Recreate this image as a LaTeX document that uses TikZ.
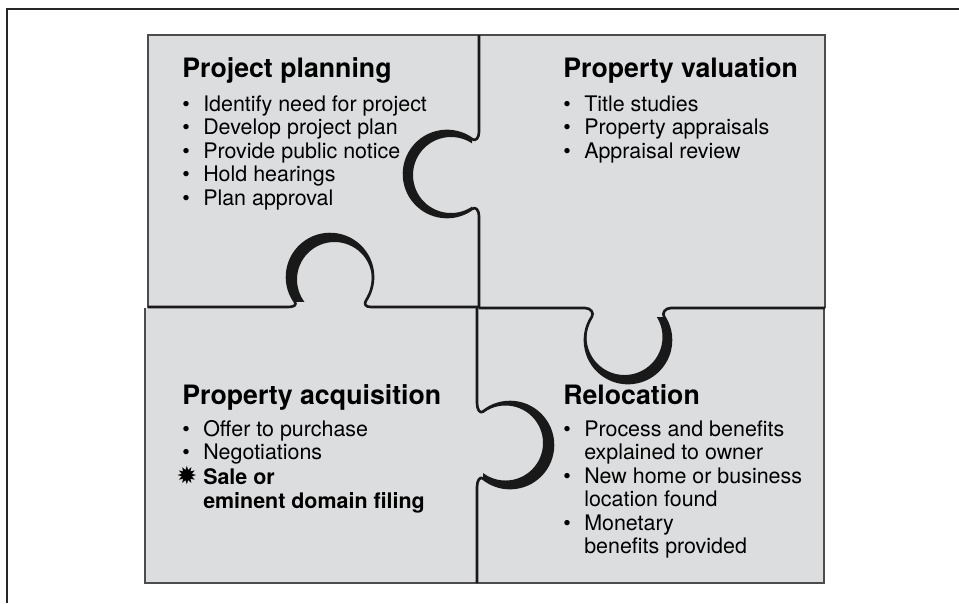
\documentclass[tikz,border=0pt]{standalone}
\usepackage{fontspec}
\setmainfont{TeX Gyre Heros}
\newfontfamily\starfont{DejaVu Sans}
\usepackage{tikz}
\usetikzlibrary{positioning}
\definecolor{puzzlegray}{RGB}{220,221,223}
\newcommand{\listbullet}{\makebox[11.9pt][l]{\textbullet}}
\newcommand{\listburst}{\makebox[11.9pt][l]{\hspace{-3.2pt}{\starfont\fontsize{14}{14}\selectfont ✹}}}

\begin{document}
\begin{tikzpicture}[x=0.02cm,y=-0.02cm,
    edge line/.style={draw=black!70,line width=0.6pt},
    seam/.style={draw=black!90,line width=1.5pt,line join=round},
    head node/.style={anchor=base west,inner sep=0pt,font=\fontsize{15.2}{16}\selectfont\bfseries},
    list node/.style={anchor=base west,inner sep=0pt,font=\fontsize{12.2}{13.4}\selectfont}]
  \useasboundingbox (0,0) rectangle (959,603);
  % frame
  \draw[line width=1pt,black!85] (7,603) -- (7,9) -- (959,9);

  % the four pieces
  \fill[puzzlegray] (148,35) rectangle (825,308);
  \fill[puzzlegray] (145,308) rectangle (824,583);
  \draw[edge line] (148,308) -- (148,35) -- (825,35) -- (825,308);
  \draw[edge line] (145,308) -- (145,583) -- (824,583) -- (824,308);

  % seams with their knobs
  \draw[seam] (148,307) -- (288,307) .. controls (294,307) and (297.1,305) .. (294.8,301.7)
     arc[start angle=145, end angle=393, radius=43]
     .. controls (363.9,303.8) and (365,307) .. (371,307) -- (479,307);
  \draw[seam] (479,35) -- (479,132) .. controls (479,138) and (475.5,141.6) .. (472.3,139.2)
     arc[start angle=-54, end angle=-306, radius=43]
     .. controls (475.5,206.4) and (479,210) .. (479,216) -- (479,307);
  \draw[seam] (479,308) -- (585,308) .. controls (591,308) and (594.1,313.2) .. (591.9,316.6)
     arc[start angle=213, end angle=-33, radius=43]
     .. controls (661.9,313.2) and (665,308) .. (671,308) -- (825,308);
  \draw[seam] (477,308) -- (477,403) .. controls (477,409) and (479.8,414.1) .. (482.9,411.6)
     arc[start angle=231, end angle=489, radius=43]
     .. controls (479.8,475.9) and (477,481) .. (477,487) -- (477,583);

  % shading of the knobs
  \begin{scope}
    \clip (280,225) rectangle (380,301);
    \fill[black!90,even odd rule] (330,277) circle[radius=43] (334.5,279.5) circle[radius=37.5];
  \end{scope}
  \begin{scope}
    \clip (395,120) rectangle (472,230);
    \fill[black!90,even odd rule] (447,174) circle[radius=43] (451,175) circle[radius=38];
  \end{scope}
  \begin{scope}
    \clip (580,317) rectangle (680,395);
    \fill[black!90,even odd rule] (628,340) circle[radius=43] (624.5,337) circle[radius=38];
  \end{scope}
  \begin{scope}
    \clip (483,395) rectangle (560,495);
    \fill[black!90,even odd rule] (510,445) circle[radius=43] (505.5,443) circle[radius=37.5];
  \end{scope}

  % texts
  \node[head node] (plan) at (182,77) {Project planning};
  \node[list node] (planlist) at (182,111) {\begin{tabular}[t]{@{}l@{}l@{}}
    \listbullet & Identify need for project\\
    \listbullet & Develop project plan\\
    \listbullet & Provide public notice\\
    \listbullet & Hold hearings\\
    \listbullet & Plan approval
  \end{tabular}};

  \node[head node] (valuation) at (563,77) {Property valuation};
  \node[list node] (valuationlist) at (563,111) {\begin{tabular}[t]{@{}l@{}l@{}}
    \listbullet & Title studies\\
    \listbullet & Property appraisals\\
    \listbullet & Appraisal review
  \end{tabular}};

  \node[head node] (acquisition) at (182,404) {Property acquisition};
  \node[list node] (acquisitionlist) at (182,436) {\begin{tabular}[t]{@{}l@{}l@{}}
    \listbullet & Offer to purchase\\
    \listbullet & Negotiations\\
    \listburst & \textbf{Sale or}\\
     & \textbf{eminent domain filing}
  \end{tabular}};

  \node[head node] (relocation) at (563,404) {Relocation};
  \node[list node] (relocationlist) at (563,436) {\begin{tabular}[t]{@{}l@{}l@{}}
    \listbullet & Process and benefits\\
     & explained to owner\\
    \listbullet & New home or business\\
     & location found\\
    \listbullet & Monetary\\
     & benefits provided
  \end{tabular}};
\end{tikzpicture}
\end{document}
